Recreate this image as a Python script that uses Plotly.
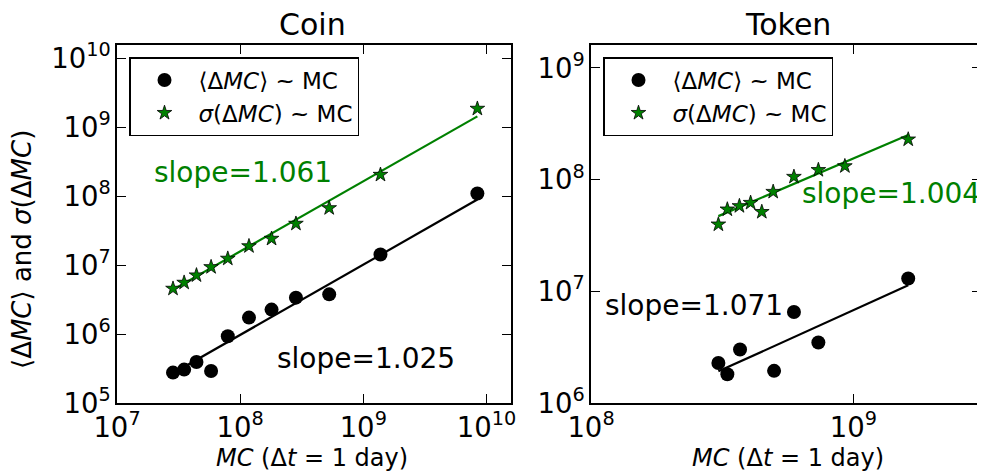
import plotly.graph_objects as go

# ---- data ----
coin_mc = [2.85e7, 3.51e7, 4.42e7, 5.81e7, 7.94e7, 1.18e8, 1.80e8, 2.84e8, 5.29e8, 1.38e9, 8.45e9]
coin_mean = [2.76e5, 3.05e5, 3.93e5, 2.91e5, 9.27e5, 1.73e6, 2.26e6, 3.37e6, 3.76e6, 1.42e7, 1.09e8]
coin_std = [4.55e6, 5.56e6, 7.10e6, 9.36e6, 1.24e7, 1.88e7, 2.41e7, 3.98e7, 6.70e7, 2.04e8, 1.85e9]
coin_fit_x = [2.85e7, 8.45e9]
coin_fit_mean = [2.7e5, 8.9e7]
coin_fit_std = [4.4e6, 1.43e9]

token_mc_mean = [3.06e8, 3.31e8, 3.70e8, 4.99e8, 5.94e8, 7.36e8, 1.62e9]
token_mean = [2.28e6, 1.81e6, 3.01e6, 1.94e6, 6.53e6, 3.48e6, 1.30e7]
token_mc_std = [3.06e8, 3.31e8, 3.68e8, 4.06e8, 4.48e8, 4.95e8, 5.94e8, 7.36e8, 9.29e8, 1.62e9]
token_std = [3.97e7, 5.41e7, 5.80e7, 6.20e7, 5.14e7, 7.78e7, 1.06e8, 1.22e8, 1.32e8, 2.29e8]
token_fit_x = [3.06e8, 1.62e9]
token_fit_mean = [1.92e6, 1.13e7]
token_fit_std = [4.71e7, 2.51e8]

slopes = {"coin_std": "slope=1.061", "coin_mean": "slope=1.025",
          "token_std": "slope=1.004", "token_mean": "slope=1.071"}
titles = ["Coin", "Token"]
mean_label = "⟨Δ<i>MC</i>⟩ ~ MC"
std_label = "<i>σ</i>(Δ<i>MC</i>) ~ MC"
xlabel = "<i>MC</i> (Δ<i>t</i> = 1 day)"
ylabel = "⟨Δ<i>MC</i>⟩ and <i>σ</i>(Δ<i>MC</i>)"

GREEN = "#008000"
FONT = "DejaVu Sans"

# page has an 8px body margin: size the figure to fill the rest of the window
W, H, OFF = 977, 466, 8
def px(X):
    return (X - OFF) / W
def py(Y):
    return (H - (Y - OFF)) / H

def minor_vals(lo, hi):
    return [k * 10.0 ** e for e in range(lo, hi + 1) for k in range(2, 10)]

fig = go.Figure()

def add_panel(xa, ya, legend, mc_mean, mean, mc_std, std, fx, fmean, fstd):
    fig.add_trace(go.Scatter(x=fx, y=fmean, mode="lines", line=dict(color="black", width=2.2),
                             xaxis=xa, yaxis=ya, showlegend=False, hoverinfo="skip"))
    fig.add_trace(go.Scatter(x=fx, y=fstd, mode="lines", line=dict(color=GREEN, width=2.2),
                             xaxis=xa, yaxis=ya, showlegend=False, hoverinfo="skip"))
    fig.add_trace(go.Scatter(x=mc_mean, y=mean, mode="markers", name=mean_label,
                             marker=dict(symbol="circle", size=14, color="black"),
                             xaxis=xa, yaxis=ya, legend=legend))
    fig.add_trace(go.Scatter(x=mc_std, y=std, mode="markers", name=std_label,
                             marker=dict(symbol="star", size=11, color=GREEN,
                                         line=dict(color="black", width=0.8)),
                             xaxis=xa, yaxis=ya, legend=legend))

add_panel("x", "y", "legend", coin_mc, coin_mean, coin_mc, coin_std,
          coin_fit_x, coin_fit_mean, coin_fit_std)
add_panel("x2", "y2", "legend2", token_mc_mean, token_mean, token_mc_std, token_std,
          token_fit_x, token_fit_mean, token_fit_std)

ydom = [py(403), py(45)]
axis_common = dict(type="log", showgrid=False, zeroline=False, showline=True,
                   linecolor="black", linewidth=1.5, mirror="allticks", automargin=False,
                   ticks="inside", ticklen=9, tickwidth=1.2, tickcolor="black",
                   dtick=1, exponentformat="power", showexponent="all",
                   tickfont=dict(family=FONT, size=22, color="black"))

def minor_axis(rng, lo, hi, over, anchor):
    vals = minor_vals(lo, hi)
    return dict(type="log", range=rng, overlaying=over, anchor=anchor,
                showgrid=False, zeroline=False, showline=False, automargin=False,
                tickmode="array", tickvals=vals, ticktext=[""] * len(vals),
                showticklabels=False, ticks="inside", ticklen=4.5, tickwidth=1,
                tickcolor="black", mirror="ticks")

legend_common = dict(xanchor="left", yanchor="top", bgcolor="white",
                     bordercolor="black", borderwidth=1.5,
                     font=dict(family=FONT, size=23), tracegroupgap=6, itemwidth=58)

fig.update_layout(
    width=W, height=H, autosize=False,
    margin=dict(l=0, r=0, t=0, b=0, pad=0, autoexpand=False),
    paper_bgcolor="white", plot_bgcolor="white",
    font=dict(family=FONT, color="black"),
    xaxis=dict(domain=[px(117), px(511)], range=[7, 10.2], anchor="y", **axis_common),
    yaxis=dict(domain=ydom, range=[5, 10.19], anchor="x", **axis_common),
    xaxis2=dict(domain=[px(591), px(981)], range=[8, 9.487], anchor="y2", **axis_common),
    yaxis2=dict(domain=ydom, range=[6, 9.205], anchor="x2", **axis_common),
    xaxis3=minor_axis([7, 10.2], 7, 10, "x", "y"),
    yaxis3=minor_axis([5, 10.19], 5, 10, "y", "x"),
    xaxis4=minor_axis([8, 9.487], 8, 9, "x2", "y2"),
    yaxis4=minor_axis([6, 9.205], 6, 9, "y2", "x2"),
    legend=dict(x=px(129), y=py(57), **legend_common),
    legend2=dict(x=px(603), y=py(57), **legend_common),
)

ann = []
ann.append(dict(text=titles[0], x=px(312), y=py(24), font=dict(size=30)))
ann.append(dict(text=titles[1], x=px(788), y=py(24), font=dict(size=30)))
ann.append(dict(text=xlabel, x=px(312), y=py(458), font=dict(size=24)))
ann.append(dict(text=xlabel, x=px(788), y=py(458), font=dict(size=24)))
ann.append(dict(text=ylabel, x=px(22), y=py(250), textangle=-90, font=dict(size=26)))
ann.append(dict(text=slopes["coin_std"], x=px(243), y=py(172), font=dict(size=28, color=GREEN)))
ann.append(dict(text=slopes["coin_mean"], x=px(366), y=py(358), font=dict(size=28, color="black")))
ann.append(dict(text=slopes["token_std"], x=px(891), y=py(193), font=dict(size=28, color=GREEN)))
ann.append(dict(text=slopes["token_mean"], x=px(694), y=py(305), font=dict(size=28, color="black")))
for a in ann:
    a.update(xref="paper", yref="paper", showarrow=False, xanchor="center", yanchor="middle")
    a["font"].setdefault("color", "black")
    a["font"]["family"] = FONT
fig.update_layout(annotations=ann)

fig.write_html("out.html")
